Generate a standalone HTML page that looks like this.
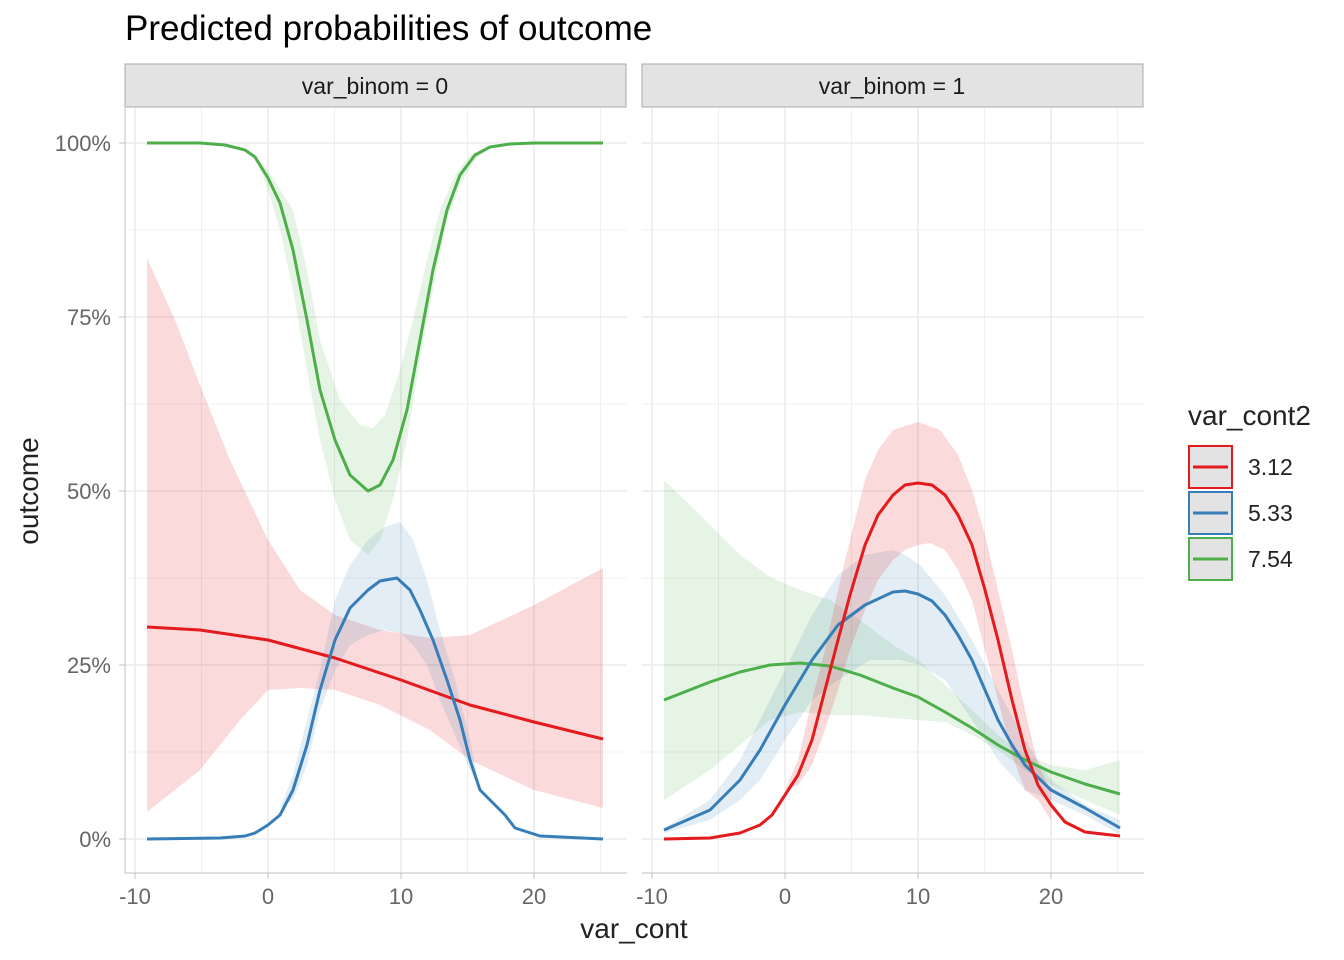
<!DOCTYPE html>
<html><head><style>body{margin:0;background:#fff}svg{display:block}text{font-family:"Liberation Sans",sans-serif}</style></head><body>
<svg width="1344" height="960" viewBox="0 0 1344 960" xmlns="http://www.w3.org/2000/svg">
<text x="125" y="40" font-size="35" fill="#000">Predicted probabilities of outcome</text>
<defs>
<g id="grid">
<g stroke="#ebebeb" stroke-width="0.8">
<line x1="0" x2="502" y1="230" y2="230"/><line x1="0" x2="502" y1="404" y2="404"/><line x1="0" x2="502" y1="578" y2="578"/><line x1="0" x2="502" y1="752" y2="752"/>
<line x1="76.5" x2="76.5" y1="108" y2="873"/><line x1="209.5" x2="209.5" y1="108" y2="873"/><line x1="342.5" x2="342.5" y1="108" y2="873"/><line x1="475.5" x2="475.5" y1="108" y2="873"/>
</g>
<g stroke="#ebebeb" stroke-width="1.6">
<line x1="0" x2="502" y1="143" y2="143"/><line x1="0" x2="502" y1="317" y2="317"/><line x1="0" x2="502" y1="491" y2="491"/><line x1="0" x2="502" y1="665" y2="665"/><line x1="0" x2="502" y1="839" y2="839"/>
<line x1="10" x2="10" y1="108" y2="873"/><line x1="143" x2="143" y1="108" y2="873"/><line x1="276" x2="276" y1="108" y2="873"/><line x1="409" x2="409" y1="108" y2="873"/>
</g>
<line x1="0" x2="502" y1="873" y2="873" stroke="#ccc" stroke-width="1.2"/>
<g stroke="#ccc" stroke-width="1.2"><line x1="10" x2="10" y1="873" y2="879"/><line x1="143" x2="143" y1="873" y2="879"/><line x1="276" x2="276" y1="873" y2="879"/><line x1="409" x2="409" y1="873" y2="879"/></g>
<g font-size="22" fill="#666" text-anchor="middle"><text x="10" y="904">-10</text><text x="143" y="904">0</text><text x="276" y="904">10</text><text x="409" y="904">20</text></g>
</g>
</defs>
<use href="#grid" x="125"/>
<use href="#grid" x="642"/>
<line x1="125" x2="125" y1="108" y2="873" stroke="#ccc" stroke-width="1.2"/>
<g stroke="#ccc" stroke-width="1.2"><line x1="119" x2="125" y1="143" y2="143"/><line x1="119" x2="125" y1="317" y2="317"/><line x1="119" x2="125" y1="491" y2="491"/><line x1="119" x2="125" y1="665" y2="665"/><line x1="119" x2="125" y1="839" y2="839"/></g>
<g font-size="22" fill="#666" text-anchor="end"><text x="111" y="151">100%</text><text x="111" y="325">75%</text><text x="111" y="499">50%</text><text x="111" y="673">25%</text><text x="111" y="847">0%</text></g>
<text x="38" y="491" font-size="28" fill="#222" text-anchor="middle" transform="rotate(-90 38 491)">outcome</text>
<text x="634" y="938" font-size="28" fill="#222" text-anchor="middle">var_cont</text>
<rect x="125" y="64" width="501" height="43" fill="#e3e3e3" stroke="#aaa"/>
<rect x="642" y="64" width="501" height="43" fill="#e3e3e3" stroke="#aaa"/>
<text x="375" y="94" font-size="23" fill="#1a1a1a" text-anchor="middle">var_binom = 0</text>
<text x="892" y="94" font-size="23" fill="#1a1a1a" text-anchor="middle">var_binom = 1</text>

<polygon fill="#e41a1c" fill-opacity="0.16" points="147,258 175,320 200,385 230,460 268,540 300,590 335,615 380,630 430,638 470,635 534,605 603,568 603,808 534,790 470,760 430,730 380,705 335,690 300,688 268,690 240,720 200,770 147,812"/>
<polygon fill="#377eb8" fill-opacity="0.14" points="280,808 293,775 307,720 320,670 335,600 350,565 368,540 385,527 400,522 413,540 427,580 440,630 455,680 470,740 480,790 470,770 455,735 440,700 427,665 413,645 400,633 385,630 368,635 350,645 335,670 320,710 307,765 293,800"/>
<polygon fill="#4daf4a" fill-opacity="0.14" points="255,157 268,170 293,210 307,270 320,340 340,400 360,425 373,428 385,415 400,370 413,320 427,260 440,210 455,175 470,155 490,147 475,160 460,185 447,220 433,290 420,360 407,440 393,500 380,540 368,555 350,540 335,500 320,440 307,370 293,290 280,230 268,190"/>
<g fill="none" stroke-width="3" stroke-linejoin="round">
<polyline stroke="#e41a1c" points="147,627 200,630 268,640 335,658 401,680 470,705 534,722 603,739"/>
<polyline stroke="#377eb8" points="147,839 220,838 245,836 255,833 268,825 280,815 293,790 307,745 320,690 335,640 350,608 368,590 380,581 397,578 410,590 420,610 433,640 447,680 460,720 470,760 480,790 505,815 515,828 540,836 603,839"/>
<polyline stroke="#4daf4a" points="147,143 200,143 225,145 245,150 255,157 268,178 280,203 293,250 307,320 320,390 335,440 350,475 368,491 380,485 393,460 407,410 420,340 433,270 447,210 460,175 475,155 490,147 510,144 534,143 603,143"/>
</g>
<polygon fill="#4daf4a" fill-opacity="0.14" points="664,480 710,525 740,555 770,577 800,590 830,600 860,620 893,645 918,660 945,685 972,710 998,735 1025,755 1051,765 1085,770 1120,760 1120,815 1085,800 1051,785 1025,770 998,750 972,735 945,722 918,720 893,718 860,715 830,715 800,712 770,720 740,745 710,770 664,800"/>
<polygon fill="#377eb8" fill-opacity="0.14" points="664,828 710,800 740,760 760,720 785,670 812,615 838,575 865,555 893,550 905,555 920,565 945,595 972,640 998,690 1025,740 1051,780 1085,805 1120,820 1120,835 1085,815 1051,800 1025,790 998,760 972,720 945,680 920,665 900,660 870,660 838,680 812,700 785,740 760,780 740,800 710,820 664,833"/>
<polygon fill="#e41a1c" fill-opacity="0.16" points="785,790 798,760 812,700 825,650 838,590 850,540 865,480 878,450 893,430 918,422 940,430 958,455 972,490 985,535 998,590 1012,650 1025,710 1038,765 1051,790 1051,820 1038,800 1025,790 1012,755 998,700 985,650 972,600 958,570 945,550 930,543 918,545 905,550 893,560 878,580 865,610 850,650 838,690 825,730 812,765 798,785"/>
<g fill="none" stroke-width="3" stroke-linejoin="round">
<polyline stroke="#4daf4a" points="664,700 710,682 740,672 770,665 800,663 830,666 860,675 893,688 918,697 945,712 972,728 998,745 1025,760 1051,772 1085,784 1120,794"/>
<polyline stroke="#377eb8" points="664,830 710,810 740,780 760,750 785,705 812,660 838,625 865,605 893,592 905,591 918,594 932,601 945,615 958,635 972,660 985,690 998,720 1012,745 1025,765 1051,790 1085,808 1120,828"/>
<polyline stroke="#e41a1c" points="664,839 710,838 740,833 760,825 772,815 785,795 798,775 812,740 825,690 838,640 850,595 865,545 878,515 893,495 905,485 918,483 932,485 945,495 958,515 972,545 985,590 998,640 1012,700 1025,750 1038,785 1051,805 1065,822 1085,832 1120,836"/>
</g>
<text x="1188" y="425" font-size="28" fill="#222">var_cont2</text>
<g stroke-width="2">
<rect x="1189" y="446" width="43" height="42" fill="#e3e3e3" stroke="#e41a1c"/>
<rect x="1189" y="492" width="43" height="42" fill="#e3e3e3" stroke="#377eb8"/>
<rect x="1189" y="538" width="43" height="42" fill="#e3e3e3" stroke="#4daf4a"/>
</g>
<g stroke-width="3"><line x1="1193" x2="1228" y1="467" y2="467" stroke="#e41a1c"/><line x1="1193" x2="1228" y1="513" y2="513" stroke="#377eb8"/><line x1="1193" x2="1228" y1="559" y2="559" stroke="#4daf4a"/></g>
<g font-size="23" fill="#222"><text x="1248" y="475">3.12</text><text x="1248" y="521">5.33</text><text x="1248" y="567">7.54</text></g>
</svg>
</body></html>
